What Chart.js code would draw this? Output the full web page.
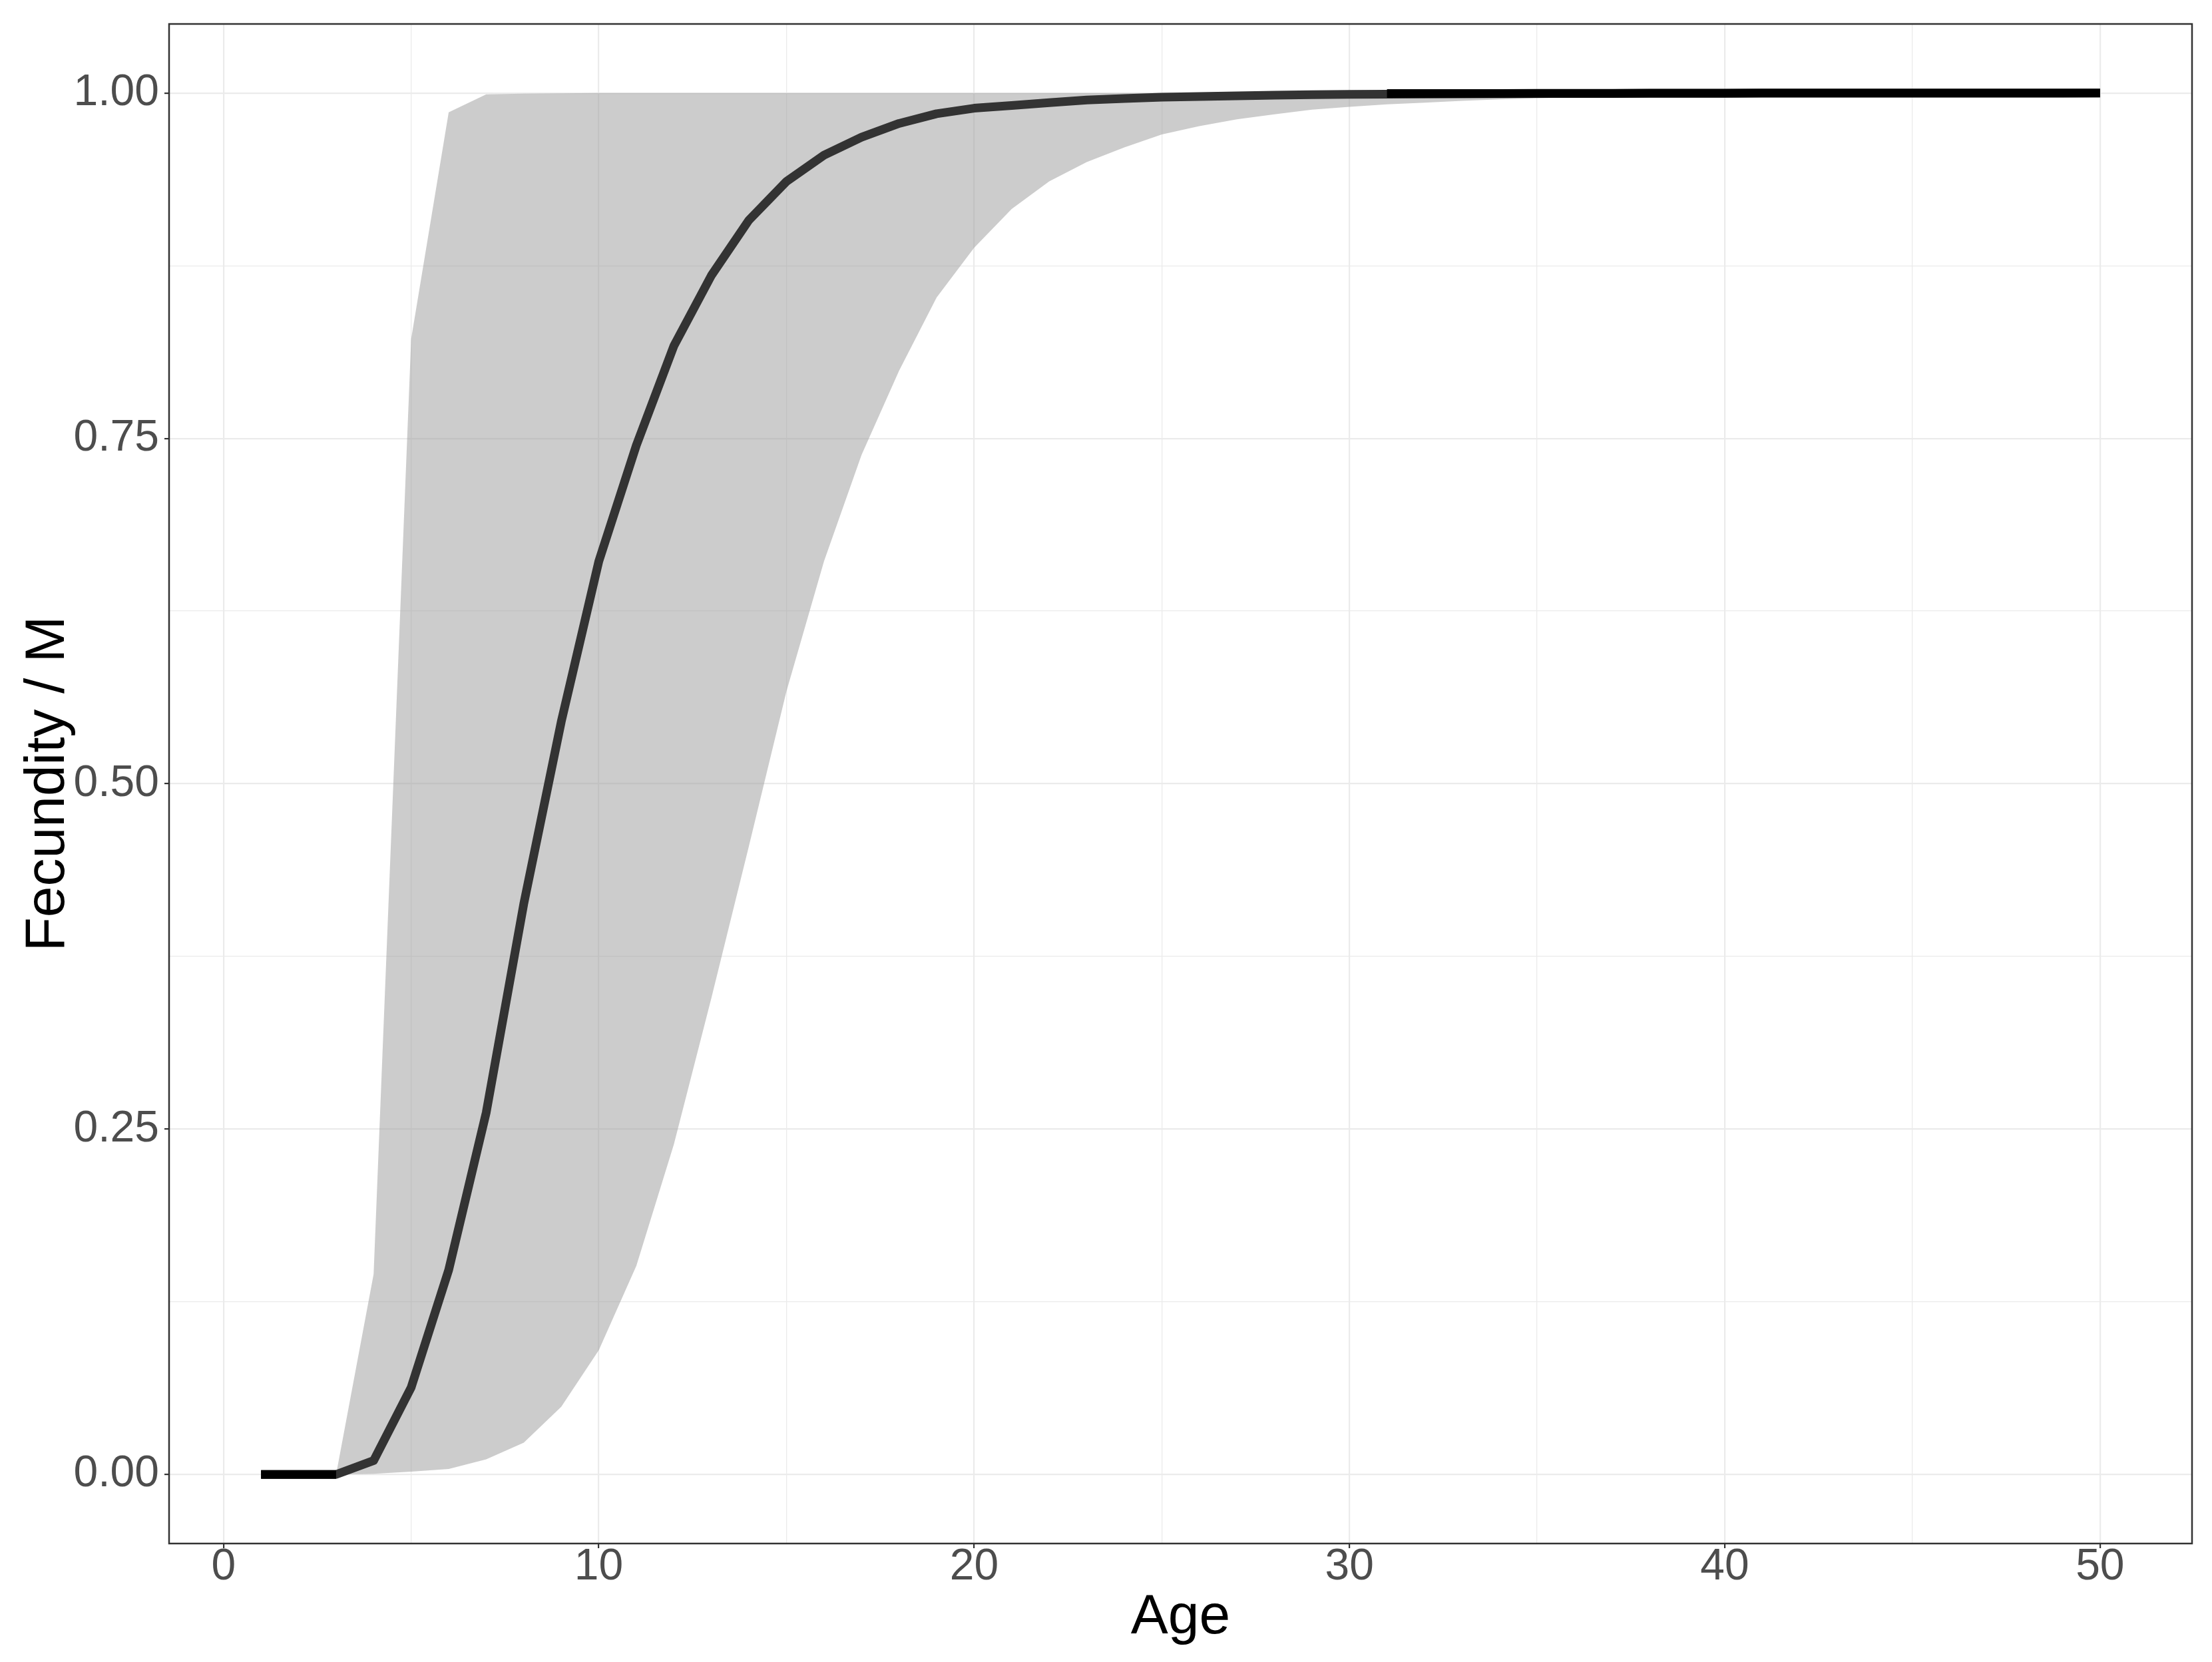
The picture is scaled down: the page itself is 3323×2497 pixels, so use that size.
<!DOCTYPE html>
<html>
<head>
<meta charset="utf-8">
<script src="https://cdn.jsdelivr.net/npm/chart.js@4.4.1/dist/chart.umd.min.js"></script>
<style>
  html, body { margin: 0; padding: 0; background: #ffffff; }
  #wrap { width: 3323px; height: 2497px; }
</style>
</head>
<body>
<div id="wrap"><canvas id="fecChart" width="3323" height="2497"></canvas></div>
<script>
// ages on the x axis
const ages = [1, 2, 3, 4, 5, 6, 7, 8, 9, 10,
              11, 12, 13, 14, 15, 16, 17, 18, 19, 20,
              21, 22, 23, 24, 25, 26, 27, 28, 29, 30,
              31, 32, 33, 34, 35, 36, 37, 38, 39, 40,
              41, 42, 43, 44, 45, 46, 47, 48, 49, 50];

// mean fecundity / M (dark line)
const meanFec = [0, 0, 0, 0.010, 0.063, 0.148, 0.262, 0.413, 0.545, 0.661,
                 0.745, 0.817, 0.868, 0.908, 0.936, 0.955, 0.968, 0.978, 0.985, 0.989,
                 0.991, 0.993, 0.995, 0.996, 0.997, 0.9975, 0.998, 0.9985, 0.9988, 0.999,
                 0.9992, 0.9993, 0.9994, 0.9995, 0.9996, 0.9997, 0.9997, 0.9998, 0.9998, 0.9998,
                 0.9999, 0.9999, 0.9999, 0.9999, 0.9999, 0.9999, 0.9999, 0.9999, 0.9999, 1.0];

// interval band
const lowerFec = [0, 0, 0, 0.0005, 0.002, 0.004, 0.011, 0.023, 0.049, 0.090,
                  0.151, 0.239, 0.345, 0.455, 0.567, 0.661, 0.738, 0.799, 0.852, 0.888,
                  0.916, 0.936, 0.950, 0.9606, 0.970, 0.976, 0.981, 0.9846, 0.988, 0.990,
                  0.9918, 0.993, 0.9943, 0.9954, 0.9962, 0.997, 0.9976, 0.998, 0.9984, 0.9987,
                  0.999, 0.9992, 0.9993, 0.9994, 0.9995, 0.9996, 0.9997, 0.9997, 0.9998, 0.9998];
const upperFec = [0, 0, 0, 0.145, 0.822, 0.986, 0.999, 0.9995, 0.9998, 1,
                  1, 1, 1, 1, 1, 1, 1, 1, 1, 1,
                  1, 1, 1, 1, 1, 1, 1, 1, 1, 1,
                  1, 1, 1, 1, 1, 1, 1, 1, 1, 1,
                  1, 1, 1, 1, 1, 1, 1, 1, 1, 1];

// black line where the band has collapsed
const fixedFec = [0, 0, 0, null, null, null, null, null, null, null,
                  null, null, null, null, null, null, null, null, null, null,
                  null, null, null, null, null, null, null, null, null, null,
                  0.9996, 0.9996, 0.9997, 0.9997, 0.9998, 0.9998, 0.9998, 0.9999, 0.9999, 0.9999,
                  1, 1, 1, 1, 1, 1, 1, 1, 1, 1];

const xTicks = [0, 5, 10, 15, 20, 25, 30, 35, 40, 45, 50];
const yTicks = [0, 0.125, 0.25, 0.375, 0.5, 0.625, 0.75, 0.875, 1];

const FONT = '"Liberation Sans", Arial, sans-serif';

function pts(vals) {
    return ages.map((a, i) => ({ x: a, y: vals[i] }));
}

function isMajorX(v) { return v % 10 === 0; }
function isMajorY(v) { return Math.abs(v * 4 - Math.round(v * 4)) < 1e-9; }

const panelBorder = {
    id: 'panelBorder',
    afterDraw(chart) {
        const { ctx, chartArea: a } = chart;
        ctx.save();
        ctx.strokeStyle = '#333333';
        ctx.lineWidth = 2.5;
        ctx.strokeRect(a.left, a.top, a.right - a.left, a.bottom - a.top);
        ctx.restore();
    }
};

const ctx = document.getElementById('fecChart').getContext('2d');
const fecChart = new Chart(ctx, {
    type: 'line',
    data: {
        datasets: [
            {
                label: 'fixed',
                data: pts(fixedFec),
                borderColor: '#000000',
                borderWidth: 13,
                borderJoinStyle: 'round',
                pointRadius: 0,
                spanGaps: false,
                fill: false,
                order: 0
            },
            {
                label: 'mean',
                data: pts(meanFec),
                borderColor: '#333333',
                borderWidth: 13,
                borderJoinStyle: 'round',
                pointRadius: 0,
                fill: false,
                order: 1
            },
            {
                label: 'upper',
                data: pts(upperFec),
                borderWidth: 0,
                borderColor: 'rgba(0,0,0,0)',
                backgroundColor: 'rgba(153,153,153,0.5)',
                pointRadius: 0,
                fill: '+1',
                order: 2
            },
            {
                label: 'lower',
                data: pts(lowerFec),
                borderWidth: 0,
                borderColor: 'rgba(0,0,0,0)',
                pointRadius: 0,
                fill: false,
                order: 3
            }
        ]
    },
    options: {
        responsive: false,
        animation: false,
        devicePixelRatio: 1,
        layout: { padding: { top: 36, right: 30, left: 0, bottom: 0 } },
        plugins: {
            legend: { display: false },
            tooltip: { enabled: false }
        },
        scales: {
            x: {
                type: 'linear',
                min: -1.45,
                max: 52.45,
                border: { display: false },
                afterFit: (scale) => {
                    scale.height = 178;
                    scale.paddingLeft = 0;
                    scale.paddingRight = 0;
                },
                afterBuildTicks: (scale) => { scale.ticks = xTicks.map(v => ({ value: v })); },
                grid: {
                    color: '#EBEBEB',
                    lineWidth: (c) => (c.tick && isMajorX(c.tick.value) ? 2.2 : 1.3),
                    tickColor: (c) => (c.tick && isMajorX(c.tick.value) ? '#333333' : 'rgba(0,0,0,0)'),
                    tickWidth: 2.2,
                    tickLength: 7
                },
                ticks: {
                    includeBounds: false,
                    autoSkip: false,
                    maxRotation: 0,
                    padding: -11,
                    color: '#4D4D4D',
                    font: { family: FONT, size: 66 },
                    callback: (v) => (isMajorX(v) ? String(v) : '')
                },
                title: {
                    display: true,
                    text: 'Age',
                    color: '#000000',
                    font: { family: FONT, size: 84 },
                    padding: { top: 0, bottom: 16 }
                }
            },
            y: {
                type: 'linear',
                min: -0.05,
                max: 1.05,
                border: { display: false },
                afterFit: (scale) => {
                    scale.width = 254;
                    scale.paddingTop = 0;
                    scale.paddingBottom = 0;
                },
                afterBuildTicks: (scale) => { scale.ticks = yTicks.map(v => ({ value: v })); },
                grid: {
                    color: '#EBEBEB',
                    lineWidth: (c) => (c.tick && isMajorY(c.tick.value) ? 2.2 : 1.3),
                    tickColor: (c) => (c.tick && isMajorY(c.tick.value) ? '#333333' : 'rgba(0,0,0,0)'),
                    tickWidth: 2.2,
                    tickLength: 7
                },
                ticks: {
                    includeBounds: false,
                    autoSkip: false,
                    padding: 8,
                    color: '#4D4D4D',
                    font: { family: FONT, size: 66 },
                    callback: (v) => (isMajorY(v) ? v.toFixed(2) : '')
                },
                title: {
                    display: true,
                    text: 'Fecundity / M',
                    color: '#000000',
                    font: { family: FONT, size: 84 },
                    padding: { top: 22, bottom: 0 }
                }
            }
        }
    },
    plugins: [panelBorder]
});
</script>
</body>
</html>
